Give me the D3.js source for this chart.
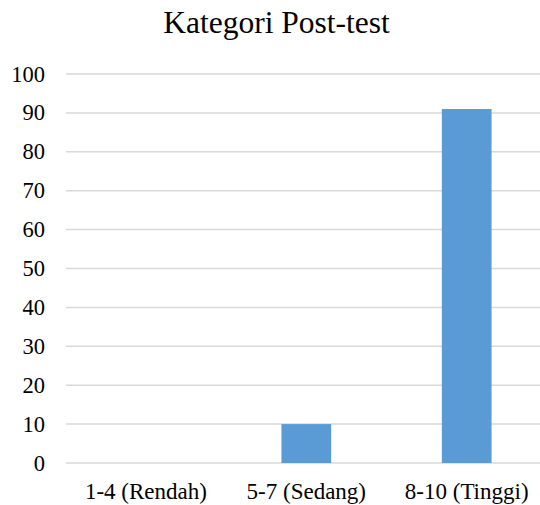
<!DOCTYPE html>
<html>
<head>
<meta charset="utf-8">
<script src="https://cdn.jsdelivr.net/npm/d3@7/dist/d3.min.js"></script>
<style>
html,body{margin:0;padding:0;background:#fff;}
svg{display:block;}
</style>
</head>
<body>
<svg id="chart" width="540" height="505" style="font-family:'Liberation Serif'"></svg>
<script>
const title = "Kategori Post-test";
const categories = ["1-4 (Rendah)", "5-7 (Sedang)", "8-10 (Tinggi)"];
const values = [0, 10, 91];
const yTicks = [0, 10, 20, 30, 40, 50, 60, 70, 80, 90, 100];

const svg = d3.select("#chart");
const x = d3.scaleBand().domain(categories).range([65.7, 546.9]).paddingInner(0.69).paddingOuter(0.345);
const y = d3.scaleLinear().domain([0, 100]).range([463, 74]);

// gridlines
svg.append("g").selectAll("line").data(yTicks).join("line")
  .attr("x1", 66).attr("x2", 547)
  .attr("y1", d => y(d)).attr("y2", d => y(d))
  .attr("stroke", "#d9d9d9").attr("stroke-width", 1.5);

// bars
svg.append("g").selectAll("rect").data(values).join("rect")
  .attr("x", (d, i) => x(categories[i]))
  .attr("width", x.bandwidth())
  .attr("y", d => y(d))
  .attr("height", d => y(0) - y(d))
  .attr("fill", "#5b9bd5");

// title
svg.append("text").attr("x", 276.5).attr("y", 33)
  .attr("text-anchor", "middle")
  .style("font-family", "'Liberation Serif'").style("font-size", "31.5px").style("fill", "#000")
  .text(title);

// y tick labels
yTicks.forEach(t => {
  svg.append("text")
    .attr("x", 45).attr("y", y(t) + 7.5)
    .attr("text-anchor", "end")
    .style("font-family", "'Liberation Serif'").style("font-size", "22.5px").style("fill", "#000")
    .text(String(t));
});

// x labels
categories.forEach(c => {
  svg.append("text")
    .attr("x", x(c) + x.bandwidth() / 2).attr("y", 499)
    .attr("text-anchor", "middle")
    .style("font-family", "'Liberation Serif'").style("font-size", "23px").style("fill", "#000")
    .text(c);
});
</script>
</body>
</html>
